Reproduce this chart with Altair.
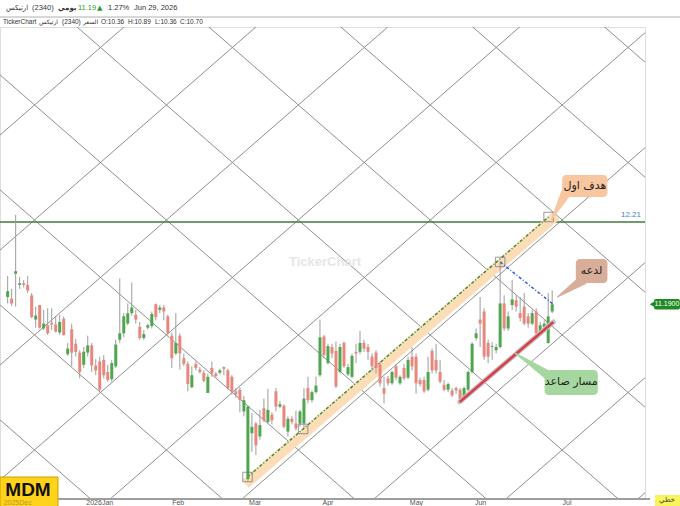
import altair as alt
import pandas as pd

# ---------------- data ----------------
opens = [11.28, 11.26, 11.57, 11.43, 11.45, 11.43, 11.30, 11.00, 11.18, 10.89,
         10.93, 10.96, 10.94, 10.84, 11.01, 10.57, 10.88, 10.70, 10.59, 10.44,
         10.59, 10.68, 10.43, 10.48, 10.50, 10.35, 10.26, 10.42, 10.75, 10.83,
         10.95, 11.08, 11.06, 10.91, 10.77, 10.90, 10.92, 11.19, 11.12, 11.15,
         11.04, 10.80, 10.58, 10.80, 10.52, 10.45, 10.16, 10.45, 10.38, 10.34,
         10.09, 10.40, 10.33, 10.34, 10.41, 10.37, 10.29, 10.11, 10.13, 9.86,
         9.02, 9.59, 9.71, 9.55, 9.90, 9.73, 9.82, 10.11, 9.92, 9.93,
         9.61, 9.77, 9.71, 9.71, 9.71, 10.15, 10.00, 10.10, 10.31, 10.79,
         10.46, 10.66, 10.61, 10.35, 10.71, 10.32, 10.29, 10.60, 10.60, 10.71,
         10.66, 10.54, 10.59, 10.44, 10.15, 10.27, 10.21, 10.42, 10.21, 10.40,
         10.28, 10.54, 10.54, 10.25, 10.25, 10.13, 10.61, 10.50, 10.35, 10.19,
         10.13, 10.12, 10.15, 10.13, 10.04, 10.13, 10.35, 10.77, 11.00, 11.10,
         10.71, 10.66, 10.62, 10.66, 11.20, 10.89, 11.18, 11.24, 11.08, 11.16,
         11.04, 10.95, 11.10, 10.83, 10.91, 10.71, 11.10]
highs = [11.54, 11.38, 12.30, 11.53, 11.49, 11.54, 11.33, 11.16, 11.18, 11.12,
         11.14, 11.14, 11.04, 11.06, 11.04, 10.71, 10.95, 10.76, 10.62, 10.66,
         10.80, 10.71, 10.51, 10.54, 10.56, 10.44, 10.50, 10.75, 11.51, 11.08,
         11.20, 11.46, 11.12, 10.97, 10.87, 10.95, 11.10, 11.20, 11.18, 11.18,
         11.06, 10.84, 11.08, 10.83, 10.58, 10.48, 10.42, 10.48, 10.41, 10.37,
         10.33, 10.48, 10.35, 10.39, 10.42, 10.39, 10.31, 10.15, 10.16, 10.05,
         9.94, 9.84, 9.73, 9.88, 10.02, 10.14, 9.85, 10.15, 9.99, 9.95,
         9.80, 9.80, 9.87, 9.88, 10.15, 10.29, 10.12, 10.29, 11.00, 10.81,
         10.70, 10.70, 10.73, 10.70, 10.73, 10.45, 10.58, 10.70, 10.86, 10.75,
         10.70, 10.58, 10.62, 10.48, 10.29, 10.30, 10.37, 10.45, 10.31, 10.45,
         10.54, 10.66, 10.58, 10.28, 10.29, 10.54, 10.64, 10.70, 10.50, 10.25,
         10.22, 10.15, 10.17, 10.15, 10.17, 10.37, 10.72, 10.89, 11.28, 11.14,
         10.75, 10.72, 10.70, 11.72, 11.30, 11.10, 11.49, 11.30, 11.28, 11.33,
         11.08, 11.12, 11.14, 10.97, 10.99, 11.33, 11.36]
lows = [11.20, 11.17, 11.16, 11.38, 11.40, 11.33, 11.02, 10.90, 10.89, 10.87,
        10.81, 10.87, 10.84, 10.81, 10.80, 10.55, 10.42, 10.54, 10.27, 10.40,
        10.54, 10.35, 10.31, 10.11, 10.27, 10.23, 10.23, 10.40, 10.71, 10.78,
        10.93, 11.05, 10.95, 10.75, 10.75, 10.88, 10.89, 10.99, 11.08, 10.99,
        10.81, 10.40, 10.56, 10.38, 10.42, 10.11, 10.15, 10.37, 10.33, 10.22,
        10.09, 10.29, 10.28, 10.32, 10.31, 10.13, 10.07, 10.03, 9.85, 9.80,
        9.00, 9.36, 9.32, 9.51, 9.73, 9.71, 9.70, 9.86, 9.90, 9.65,
        9.55, 9.70, 9.62, 9.67, 9.66, 9.96, 9.97, 10.08, 10.29, 10.52,
        10.44, 10.52, 10.15, 10.33, 10.40, 10.30, 10.27, 10.46, 10.57, 10.60,
        10.50, 10.36, 10.33, 10.17, 9.96, 10.18, 10.19, 10.25, 10.19, 10.25,
        10.26, 10.37, 10.08, 10.17, 10.09, 10.11, 10.33, 10.33, 10.21, 10.11,
        10.10, 10.04, 10.08, 9.98, 10.02, 10.11, 10.33, 10.74, 10.66, 10.50,
        10.46, 10.50, 10.58, 10.64, 10.86, 10.86, 11.12, 11.10, 10.98, 10.93,
        10.90, 10.93, 10.81, 10.80, 10.89, 10.70, 11.08]
closes = [11.35, 11.20, 11.60, 11.45, 11.43, 11.36, 11.03, 11.05, 10.90, 10.95,
          10.83, 10.94, 10.85, 10.97, 10.81, 10.64, 10.59, 10.60, 10.35, 10.60,
          10.68, 10.43, 10.37, 10.13, 10.31, 10.25, 10.46, 10.69, 10.83, 11.04,
          11.08, 11.15, 11.00, 10.77, 10.82, 10.93, 11.07, 11.03, 11.15, 11.10,
          10.83, 10.52, 10.71, 10.58, 10.45, 10.20, 10.31, 10.40, 10.35, 10.24,
          10.29, 10.33, 10.30, 10.37, 10.39, 10.15, 10.11, 10.07, 10.00, 10.00,
          9.92, 9.67, 9.44, 9.69, 9.75, 9.88, 9.75, 9.92, 9.95, 9.67,
          9.77, 9.73, 9.65, 9.86, 10.02, 10.00, 10.10, 10.18, 10.78, 10.56,
          10.67, 10.58, 10.17, 10.66, 10.42, 10.41, 10.55, 10.58, 10.71, 10.64,
          10.60, 10.42, 10.40, 10.21, 10.08, 10.21, 10.35, 10.28, 10.29, 10.27,
          10.50, 10.42, 10.21, 10.20, 10.11, 10.35, 10.37, 10.37, 10.23, 10.13,
          10.20, 10.06, 10.12, 10.01, 10.15, 10.35, 10.70, 10.83, 10.95, 10.54,
          10.54, 10.67, 10.66, 11.20, 10.89, 11.04, 11.25, 11.16, 11.02, 10.95,
          10.95, 11.08, 10.83, 10.93, 10.95, 11.04, 11.19]

month_labels = ["2025Dec", "2026Jan", "Feb", "Mar", "Apr", "May", "Jun", "Jul"]
month_pos = [2.5, 23.0, 42.6, 61.8, 80.0, 102.1, 118.1, 139.7]
y_ticks = [9.0, 9.5, 10.0, 10.5, 11.0, 11.5, 12.0, 12.5, 13.0, 13.5, 14.0, 14.5]

target_level = 12.21
last_price = 11.19

# channel pivots (square markers) in (bar index, price)
pivot_i = [59.9, 73.8, 123.0, 135.1]
pivot_p = [9.047, 9.643, 11.715, 12.273]
blue_i = [123.0, 136.5]
blue_p = [11.715, 11.18]
red_i = [112.9, 136.3]
red_p = [9.978, 10.97]
band_i = [59.4, 137.0]
band_p = [8.96, 12.29]

callout_text = ["هدف اول", "لدعه", "مسار صاعد"]
callout_box_i = [(138.5, 149.8), (141.9, 149.8), (134.1, 147.4)]
callout_box_p = [(12.794, 12.521), (11.752, 11.454), (10.375, 10.065)]
callout_base = [(139.3, 12.56), (143.6, 11.49), (135.6, 10.29)]
callout_tip = [(135.8, 12.24), (137.3, 11.28), (126.7, 10.585)]
callout_color = ["#F8C69F", "#D8AE9B", "#A6D7A0"]

# Gann-style diamond grid anchor (a crossing point), slope and spacing
grid_i0, grid_p0 = 6.71, 12.236
grid_slope, grid_step = 0.04331, 1.4268

# ---------------- frames ----------------
W, H = 645, 472
XD = [-0.664, 157.93]
YD = [8.774, 14.630]
xs = alt.Scale(domain=XD, nice=False, zero=False)
ys = alt.Scale(domain=YD, nice=False, zero=False)

GREEN = "#4FA64F"
RED = "#E8877D"
FONT = "Liberation Sans, DejaVu Sans"

cdf = pd.DataFrame({"i": list(range(len(opens))), "o": opens, "h": highs,
                    "l": lows, "c": closes})
cdf["dir"] = ["up" if c >= o else "down" for o, c in zip(opens, closes)]

rows = []
for n in range(-7, 3):
    for ii in (-3, 161):
        rows.append({"i": ii, "p": grid_p0 - grid_slope * (ii - grid_i0) - grid_step * n, "lid": f"d{n}"})
for n in range(-2, 9):
    for ii in (-3, 161):
        rows.append({"i": ii, "p": grid_p0 + grid_slope * (ii - grid_i0) - grid_step * n, "lid": f"a{n}"})
gdf = pd.DataFrame(rows)


def X(f):
    return alt.X(f, type="quantitative", scale=xs, axis=None)


def Y(f, axis=None):
    return alt.Y(f, type="quantitative", scale=ys, axis=axis)


grid = alt.Chart(gdf).mark_line(clip=True, color="#8e8e8e", strokeWidth=1).encode(
    x=X("i"), y=Y("p"), detail="lid:N")

hline = alt.Chart(pd.DataFrame({"p": [target_level]})).mark_rule(
    color="#3f7a3f", strokeWidth=1.6).encode(y=Y("p"))
hlabel = alt.Chart(pd.DataFrame({"p": [target_level], "t": [f"{target_level:.2f}"]})).mark_text(
    align="right", dy=-7, fontSize=8, font=FONT, color="#4a7ec8").encode(
    x=alt.value(641), y=Y("p"), text="t:N")

band = alt.Chart(pd.DataFrame({"i": band_i, "p": band_p})).mark_line(
    color="#FBDDB8", strokeWidth=10, strokeCap="butt").encode(x=X("i"), y=Y("p"))
chan = alt.Chart(pd.DataFrame({"i": [pivot_i[0], pivot_i[3]], "p": [pivot_p[0], pivot_p[3]]})).mark_line(
    color="#2f8a2f", strokeWidth=1.4, strokeDash=[3, 2, 1, 2]).encode(x=X("i"), y=Y("p"))

yaxis = alt.Axis(orient="right", values=y_ticks, format=".4f", labelFontSize=7.5,
                 labelColor="#444", labelFont=FONT, tickSize=3, tickColor="#777",
                 domain=False, grid=False, title=None, labelPadding=2, offset=2)
wick = alt.Chart(cdf).mark_rule(color="#9c9c9c", strokeWidth=1).encode(
    x=X("i"), y=Y("l:Q", yaxis), y2="h:Q")
body = alt.Chart(cdf).mark_bar(size=3).encode(
    x=X("i"), y=Y("o"), y2="c:Q",
    color=alt.Color("dir:N", scale=alt.Scale(domain=["up", "down"], range=[GREEN, RED]), legend=None))

red_shadow = alt.Chart(pd.DataFrame({"i": red_i, "p": red_p})).mark_line(
    color="#c4c4c4", strokeWidth=5, strokeCap="round").encode(x=X("i"), y=Y("p"))
red_line = alt.Chart(pd.DataFrame({"i": red_i, "p": red_p})).mark_line(
    color="#D8404E", strokeWidth=2.6, strokeCap="butt").encode(x=X("i"), y=Y("p"))
blue_line = alt.Chart(pd.DataFrame({"i": blue_i, "p": blue_p})).mark_line(
    color="#2f5fd6", strokeWidth=1.5, strokeDash=[3, 2, 1, 2]).encode(x=X("i"), y=Y("p"))
squares = alt.Chart(pd.DataFrame({"i": pivot_i, "p": pivot_p})).mark_square(
    filled=False, size=90, color="#6f6f6f", strokeWidth=1).encode(x=X("i"), y=Y("p"))

# callouts
ptr_rows, box_rows = [], []
for k in range(3):
    ptr_rows.append({"cid": k, "i": callout_base[k][0], "p": callout_base[k][1], "w": 10, "col": callout_color[k]})
    ptr_rows.append({"cid": k, "i": callout_tip[k][0], "p": callout_tip[k][1], "w": 1, "col": callout_color[k]})
    box_rows.append({"cid": k, "i0": callout_box_i[k][0], "i1": callout_box_i[k][1],
                     "p0": callout_box_p[k][0], "p1": callout_box_p[k][1],
                     "im": sum(callout_box_i[k]) / 2, "pm": sum(callout_box_p[k]) / 2,
                     "t": callout_text[k], "col": callout_color[k]})
pdf = pd.DataFrame(ptr_rows)
bdf = pd.DataFrame(box_rows)
pointers = alt.Chart(pdf).mark_trail().encode(
    x=X("i"), y=Y("p"), size=alt.Size("w:Q", scale=None, legend=None),
    color=alt.Color("col:N", scale=None), detail="cid:N")
boxes = alt.Chart(bdf).mark_rect(cornerRadius=4).encode(
    x=X("i0"), x2="i1:Q", y=Y("p0"), y2="p1:Q", color=alt.Color("col:N", scale=None))
box_text = alt.Chart(bdf).mark_text(fontSize=11, font="DejaVu Sans", color="#1e1e1e").encode(
    x=X("im"), y=Y("pm"), text="t:N")

# watermark
water = alt.Chart(pd.DataFrame({"t": ["TickerChart"]})).mark_text(
    fontSize=13, fontWeight="bold", font=FONT, color="#e6e6e6").encode(
    x=alt.value(325), y=alt.value(235), text="t:N")

# bottom axis
xline = alt.Chart(pd.DataFrame({"a": [0]})).mark_rule(color="#9e9e9e", strokeWidth=2).encode(
    x=alt.value(57), x2=alt.value(650), y=alt.value(472))
mdf = pd.DataFrame({"i": month_pos, "t": month_labels})
months = alt.Chart(mdf[mdf.t != "2025Dec"]).mark_text(
    fontSize=7, font=FONT, color="#555", baseline="middle").encode(
    x=X("i"), y=alt.value(476), text="t:N")

mdm_box = alt.Chart(pd.DataFrame({"a": [0]})).mark_rect(
    color="#FFD21C", stroke="#caa000", strokeWidth=1).encode(
    x=alt.value(0), x2=alt.value(58), y=alt.value(450), y2=alt.value(480))
dec_lbl = alt.Chart(mdf[mdf.t == "2025Dec"]).mark_text(
    fontSize=7, font=FONT, color="#b79a2c", baseline="middle").encode(
    x=X("i"), y=alt.value(476), text="t:N")
mdm_txt = alt.Chart(pd.DataFrame({"t": ["MDM"]})).mark_text(
    fontSize=19, fontWeight="bold", font=FONT, color="#111").encode(
    x=alt.value(28), y=alt.value(463), text="t:N")

khatti_box = alt.Chart(pd.DataFrame({"a": [0]})).mark_rect(color="#F7F55A").encode(
    x=alt.value(655), x2=alt.value(680), y=alt.value(468), y2=alt.value(479))
khatti_txt = alt.Chart(pd.DataFrame({"t": ["خطي"]})).mark_text(
    fontSize=7, font="DejaVu Sans", color="#444").encode(
    x=alt.value(667), y=alt.value(473), text="t:N")

# last price tag
tag_df = pd.DataFrame({"p": [last_price], "p_hi": [last_price + 0.065],
                       "p_lo": [last_price - 0.065], "t": [f"{last_price:.4f}"]})
tag_box = alt.Chart(tag_df).mark_rect(color="#1f8a24", cornerRadius=2).encode(
    x=alt.value(654), x2=alt.value(680), y=Y("p_hi"), y2="p_lo:Q")
tag_tri = alt.Chart(tag_df).mark_point(
    shape="triangle-left", filled=True, size=28, color="#1f8a24", opacity=1).encode(
    x=alt.value(652), y=Y("p"))
tag_txt = alt.Chart(tag_df).mark_text(
    fontSize=7, font=FONT, color="white").encode(x=alt.value(667), y=Y("p"), text="t:N")

# header
sep = alt.Chart(pd.DataFrame({"a": [0]})).mark_rule(color="#b0b0b0", strokeWidth=1).encode(
    x=alt.value(0), x2=alt.value(680), y=alt.value(-10))


def htext(t, x, y, size, color="#333", weight="normal", font=FONT):
    return alt.Chart(pd.DataFrame({"t": [t]})).mark_text(
        align="left", baseline="middle", fontSize=size, font=font, color=color,
        fontWeight=weight).encode(x=alt.value(x), y=alt.value(y), text="t:N")


header = [
    htext("ارتيكس", 6, -19, 7, font="DejaVu Sans"),
    htext("(2340)", 32, -19, 7.5),
    htext("يومي", 58, -19, 7, weight="bold", font="DejaVu Sans"),
    htext("11.19", 78, -19, 7.5, color="#2a9a2a"),
    htext("▲", 97, -19, 7, color="#2a9a2a", font="DejaVu Sans"),
    htext("1.27%", 108, -19, 7.5),
    htext("Jun 29, 2026", 134, -19, 7.5),
    htext("TickerChart", 3, -5, 6.5),
    htext("ارتيكس", 39, -5, 6, font="DejaVu Sans"),
    htext("(2340)", 62, -5, 6.5),
    htext("السعر", 83, -5, 6, font="DejaVu Sans"),
    htext("O:10.36", 101, -5, 6.5),
    htext("H:10.89", 128, -5, 6.5),
    htext("L:10.36", 155, -5, 6.5),
    htext("C:10.70", 180, -5, 6.5),
]

chart = alt.layer(
    grid, hline, hlabel, band, chan, wick, body, red_shadow, red_line, blue_line, squares,
    pointers, boxes, box_text, water, xline, months, mdm_box, dec_lbl, mdm_txt,
    khatti_box, khatti_txt, tag_box, tag_tri, tag_txt, sep, *header
).properties(
    width=W, height=H,
    padding={"left": 0, "top": 27, "right": 35, "bottom": 7},
    autosize=alt.AutoSizeParams(type="none"),
).configure_view(stroke=None).configure(background="white")

chart.save("out.html", embed_options={"renderer": "svg", "actions": False})
